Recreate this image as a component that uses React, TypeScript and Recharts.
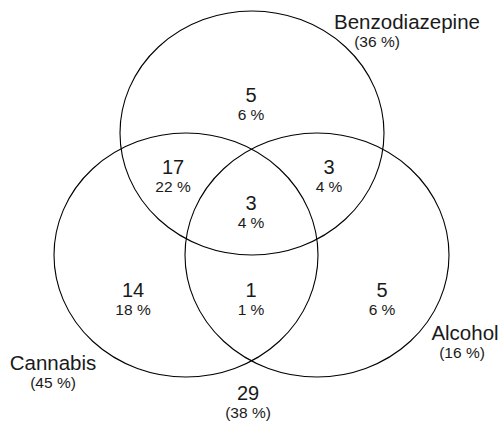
import React from "react";
import { ScatterChart, Scatter, XAxis, YAxis } from "recharts";

const W = 501;
const H = 425;

// sets
const setNames = ["Benzodiazepine", "Cannabis", "Alcohol"];
const setPercents = ["(36 %)", "(45 %)", "(16 %)"];

// regions: B only, B∩C, B∩A, B∩C∩A, C only, C∩A, A only, none
const regionCounts = [5, 17, 3, 3, 14, 1, 5, 29];
const regionPercents = ["6 %", "22 %", "4 %", "4 %", "18 %", "1 %", "6 %", "(38 %)"];

// layout (chart units == pixels)
const circleCenters = [
  [252, 133],
  [186, 255],
  [317, 255],
];
const circleRadius = { rx: 132, ry: 122 };
const setLabelPos = [
  [407, 22, 377],
  [53, 363, 53],
  [465, 333, 462],
];
const regionPos = [
  [251, 95],
  [173, 167],
  [329, 167],
  [251, 203],
  [133, 290],
  [251, 290],
  [382, 290],
  [248, 393],
];

const FONT = "'Liberation Sans', Arial, Helvetica, sans-serif";
const INK = "#1a1a1a";

const circles = circleCenters.map(([x, y], i) => ({ x, y, name: setNames[i] }));
const regions = regionPos.map(([x, y], i) => ({
  x,
  y,
  count: regionCounts[i],
  pct: regionPercents[i],
}));
const setLabels = setLabelPos.map(([x, y, px], i) => ({
  x,
  y,
  px,
  name: setNames[i],
  pct: setPercents[i],
}));

const CircleShape = (props: any) => (
  <ellipse
    cx={props.cx}
    cy={props.cy}
    rx={circleRadius.rx}
    ry={circleRadius.ry}
    fill="none"
    stroke="#000"
    strokeWidth={1.1}
  />
);

const RegionLabel = (props: any) => {
  const { cx, cy, payload } = props;
  return (
    <g fontFamily={FONT} fill={INK} textAnchor="middle">
      <text x={cx} y={cy} dy={7} fontSize={20}>
        {payload.count}
      </text>
      <text x={cx} y={cy} dy={25} fontSize={15.5}>
        {payload.pct}
      </text>
    </g>
  );
};

const SetLabel = (props: any) => {
  const { cx, cy, payload } = props;
  const shift = payload.px - payload.x;
  return (
    <g fontFamily={FONT} fill={INK} textAnchor="middle">
      <text x={cx} y={cy} dy={7} fontSize={20.5}>
        {payload.name}
      </text>
      <text x={cx + shift} y={cy} dy={25} fontSize={15.5}>
        {payload.pct}
      </text>
    </g>
  );
};

export default function App() {
  return (
    <div style={{ position: "absolute", left: 0, top: 0, background: "#fff" }}>
      <ScatterChart width={W} height={H} margin={{ top: 0, right: 0, bottom: 0, left: 0 }}>
        <XAxis type="number" dataKey="x" domain={[0, W]} hide />
        <YAxis type="number" dataKey="y" domain={[0, H]} reversed hide />
        <Scatter data={circles} shape={CircleShape} isAnimationActive={false} />
        <Scatter data={regions} shape={RegionLabel} isAnimationActive={false} />
        <Scatter data={setLabels} shape={SetLabel} isAnimationActive={false} />
      </ScatterChart>
    </div>
  );
}
